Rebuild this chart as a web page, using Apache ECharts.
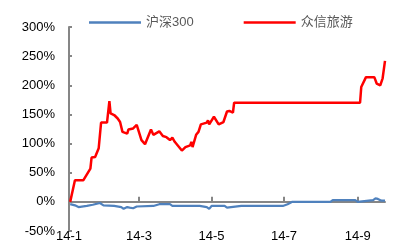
<!DOCTYPE html>
<html>
<head>
<meta charset="utf-8">
<script src="https://cdn.jsdelivr.net/npm/echarts@6/dist/echarts.min.js"></script>
<style>
html,body{margin:0;padding:0;background:#fff;}
#c{width:394px;height:245px;}
</style>
</head>
<body>
<div id="c"></div>
<script>
// Series names
const seriesNames = ['沪深300', '众信旅游'];

// 沪深300 cumulative return (%)
const hsDates = ['2014-01-02','2014-01-03','2014-01-06','2014-01-09','2014-01-16','2014-01-21','2014-01-27','2014-01-30','2014-02-08','2014-02-14','2014-02-16','2014-02-19','2014-02-21','2014-02-24','2014-02-27','2014-03-13','2014-03-18','2014-03-27','2014-03-29','2014-04-21','2014-04-27','2014-04-29','2014-05-01','2014-05-12','2014-05-14','2014-05-15','2014-05-26','2014-05-27','2014-05-29','2014-06-30','2014-07-04','2014-07-08','2014-08-09','2014-08-11','2014-08-30','2014-09-01','2014-09-02','2014-09-14','2014-09-16','2014-09-18','2014-09-21','2014-09-24'];
const hsValues = [-4,-7,-6,-9,-7,-5,-2,-6,-7,-9,-12,-9,-10,-11,-8,-7,-4,-4,-7,-7,-9,-12,-7,-7,-10,-7,-7,-10,-7,-7,-4,0,0,3,3,0,3,3,6,5,2,2];

// 众信旅游 cumulative return (%)
const zxDates = ['2014-01-02','2014-01-06','2014-01-13','2014-01-19','2014-01-20','2014-01-23','2014-01-26','2014-01-28','2014-02-02','2014-02-04','2014-02-05','2014-02-08','2014-02-11','2014-02-13','2014-02-15','2014-02-19','2014-02-20','2014-02-24','2014-02-27','2014-03-03','2014-03-06','2014-03-11','2014-03-13','2014-03-18','2014-03-21','2014-03-24','2014-03-27','2014-03-29','2014-03-31','2014-04-06','2014-04-09','2014-04-13','2014-04-14','2014-04-15','2014-04-18','2014-04-20','2014-04-22','2014-04-27','2014-04-28','2014-04-29','2014-05-03','2014-05-07','2014-05-11','2014-05-14','2014-05-16','2014-05-19','2014-05-20','2014-09-03','2014-09-04','2014-09-08','2014-09-15','2014-09-17','2014-09-20','2014-09-22','2014-09-24'];
const zxValues = [0,37,37,57,76,77,92,136,136,173,152,149,143,137,120,117,124,126,132,106,99,124,115,121,113,111,106,110,103,88,94,97,103,94,115,120,133,136,140,133,146,133,137,155,156,153,170,170,197,214,214,203,200,212,242];

// Axis ticks
const xTickDates = ['2014-01-01','2014-03-01','2014-05-01','2014-07-01','2014-09-01'];
const xTickLabels = ['14-1','14-3','14-5','14-7','14-9'];
const xMin = '2014-01-01';
const xMax = '2014-09-24';
const yMin = -50, yMax = 300, yStep = 50;

// day number since 2014-01-01
const DAY = 86400000;
const base = Date.UTC(2014, 0, 1);
const dayNum = s => { const p = s.split('-').map(Number); return Math.round((Date.UTC(p[0], p[1]-1, p[2]) - base) / DAY); };
const tickDays = xTickDates.map(dayNum);

const chart = echarts.init(document.getElementById('c'));
const axisColor = '#868686';
const font = '"Liberation Sans", "Noto Sans CJK SC", sans-serif';

chart.setOption({
  animation: false,
  textStyle: { fontFamily: font },
  legend: {
    top: 11,
    left: 84,
    itemWidth: 52,
    itemHeight: 14,
    itemGap: 50,
    icon: 'path://M0,5.8 L52,5.8 L52,8.2 L0,8.2 Z',
    textStyle: { color: '#595959', fontSize: 13, fontFamily: font },
    data: seriesNames
  },
  grid: { left: 69, right: 9, top: 27, bottom: 14, containLabel: false },
  xAxis: {
    type: 'value',
    min: dayNum(xMin),
    max: dayNum(xMax),
    offset: -17,
    axisLine: { show: true, lineStyle: { color: axisColor, width: 2 } },
    axisTick: { show: true, inside: true, length: 5, customValues: tickDays, lineStyle: { color: axisColor, width: 2 } },
    axisLabel: {
      customValues: tickDays,
      margin: 16,
      color: '#000',
      fontSize: 13,
      fontFamily: font,
      formatter: function (v) {
        const i = tickDays.indexOf(v);
        return i >= 0 ? xTickLabels[i] : '';
      }
    },
    splitLine: { show: false }
  },
  yAxis: {
    type: 'value',
    min: yMin, max: yMax, interval: yStep,
    axisLine: { show: true, lineStyle: { color: axisColor, width: 2 } },
    axisTick: { show: true, inside: true, length: 3, lineStyle: { color: axisColor, width: 2 } },
    axisLabel: { color: '#000', fontSize: 13, margin: 14, fontFamily: font, formatter: '{value}%' },
    splitLine: { show: false }
  },
  series: [
    {
      name: seriesNames[0], type: 'line', showSymbol: false, symbol: 'none',
      data: hsDates.map((d, i) => [dayNum(d), hsValues[i]]),
      lineStyle: { color: '#4F81BD', width: 2.2 },
      itemStyle: { color: '#4F81BD' },
      z: 2
    },
    {
      name: seriesNames[1], type: 'line', showSymbol: false, symbol: 'none',
      data: zxDates.map((d, i) => [dayNum(d), zxValues[i]]),
      lineStyle: { color: '#FF0000', width: 2.5 },
      itemStyle: { color: '#FF0000' },
      z: 3
    }
  ]
});
</script>
</body>
</html>
